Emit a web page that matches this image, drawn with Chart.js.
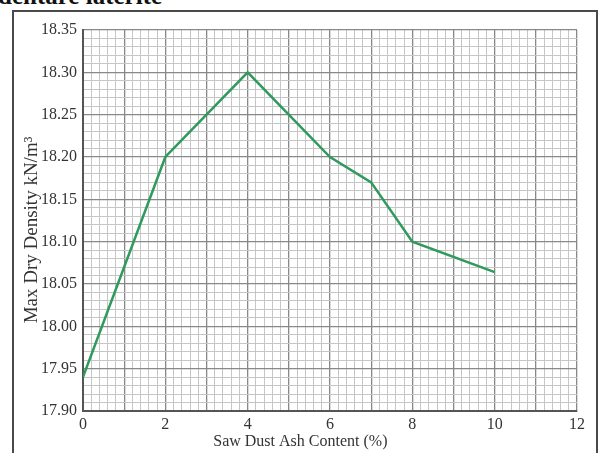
<!DOCTYPE html>
<html>
<head>
<meta charset="utf-8">
<script src="https://cdn.jsdelivr.net/npm/chart.js@4/dist/chart.umd.min.js"></script>
<style>
  html, body { margin: 0; padding: 0; background: #fff; overflow: hidden; }
  #page { position: relative; width: 599px; height: 453px; overflow: hidden; }
  #heading { position: absolute; left: -2px; top: -18px; font: bold 25px "Liberation Serif", serif; color: #111; white-space: nowrap; }
  #frame { position: absolute; left: 12px; top: 10px; width: 582px; height: 470px; border: 2px solid #4a4a4a; }
  #wrap { position: absolute; left: 0; top: 0; width: 599px; height: 453px; }
</style>
</head>
<body>
<div id="page">
  <div id="heading">dentare laterite</div>
  <div id="frame"></div>
  <div id="wrap"><canvas id="chart" width="599" height="453"></canvas></div>
</div>
<script>
// données
const ashContent = [0, 2, 4, 6, 7, 8, 10];
const dryDensity = [17.94, 18.20, 18.30, 18.20, 18.17, 18.10, 18.064];
const xLabels = [0, 2, 4, 6, 8, 10, 12];
const yLabels = [17.90, 17.95, 18.00, 18.05, 18.10, 18.15, 18.20, 18.25, 18.30, 18.35];
const xTitle = "Saw Dust Ash Content (%)";
const yTitle = "Max Dry Density kN/m³";

const serif = "'Liberation Serif', 'Times New Roman', serif";
const minorColor = "#c6c6c6";
const majorColor = "#888888";

function isInt(v){ return Math.abs(v - Math.round(v)) < 1e-6; }
function isYMajor(v){ return Math.abs(v*20 - Math.round(v*20)) < 1e-6; }

document.addEventListener("DOMContentLoaded", function(){
  const ctx = document.getElementById("chart");

  // titres des axes, placés comme sur l'original (un peu décentrés)
  const axisTitles = {
    id: "axisTitles",
    afterDraw(chart){
      const c = chart.ctx;
      const area = chart.chartArea;
      c.save();
      c.fillStyle = "#333";
      c.textAlign = "center";
      c.textBaseline = "middle";
      c.font = "16px " + serif;
      c.fillText(xTitle, area.left + (area.right - area.left) * 0.44, 442);
      c.translate(32, 230);
      c.rotate(-Math.PI / 2);
      c.font = "19px " + serif;
      c.fillText(yTitle, 0, 0);
      c.restore();
    }
  };

  new Chart(ctx, {
    type: "line",
    data: {
      datasets: [{
        data: ashContent.map(function(x, i){ return { x: x, y: dryDensity[i] }; }),
        borderColor: "#2f9a5c",
        borderWidth: 2.5,
        pointRadius: 0,
        tension: 0,
        fill: false
      }]
    },
    options: {
      responsive: false,
      animation: false,
      layout: { padding: { top: 30, right: 22, left: 0, bottom: 0 } },
      plugins: { legend: { display: false }, tooltip: { enabled: false } },
      scales: {
        x: {
          type: "linear",
          min: 0, max: 12,
          afterFit: function(s){ s.height = 42; },
          border: { display: true, color: "#555", width: 2 },
          grid: {
            drawTicks: false,
            color: function(c){ return isInt(c.tick.value) ? majorColor : minorColor; },
            lineWidth: function(c){ return isInt(c.tick.value) ? 1.3 : 1; }
          },
          ticks: {
            stepSize: 0.2,
            autoSkip: false,
            maxRotation: 0,
            padding: 4,
            color: "#333",
            font: { family: serif, size: 16 },
            callback: function(v){
              const r = Math.round(v);
              return (isInt(v) && xLabels.indexOf(r) >= 0) ? String(r) : "";
            }
          }
        },
        y: {
          min: 17.90, max: 18.35,
          afterFit: function(s){ s.width = 83; },
          border: { display: true, color: "#555", width: 2 },
          grid: {
            drawTicks: false,
            color: function(c){ return isYMajor(c.tick.value) ? majorColor : minorColor; },
            lineWidth: function(c){ return isYMajor(c.tick.value) ? 1.3 : 1; }
          },
          ticks: {
            stepSize: 0.01,
            autoSkip: false,
            padding: 6,
            color: "#333",
            font: { family: serif, size: 16 },
            callback: function(v){
              if(!isYMajor(v)) return "";
              const lbl = v.toFixed(2);
              return yLabels.some(function(t){ return t.toFixed(2) === lbl; }) ? lbl : "";
            }
          }
        }
      }
    },
    plugins: [axisTitles]
  });
});
</script>
</body>
</html>
